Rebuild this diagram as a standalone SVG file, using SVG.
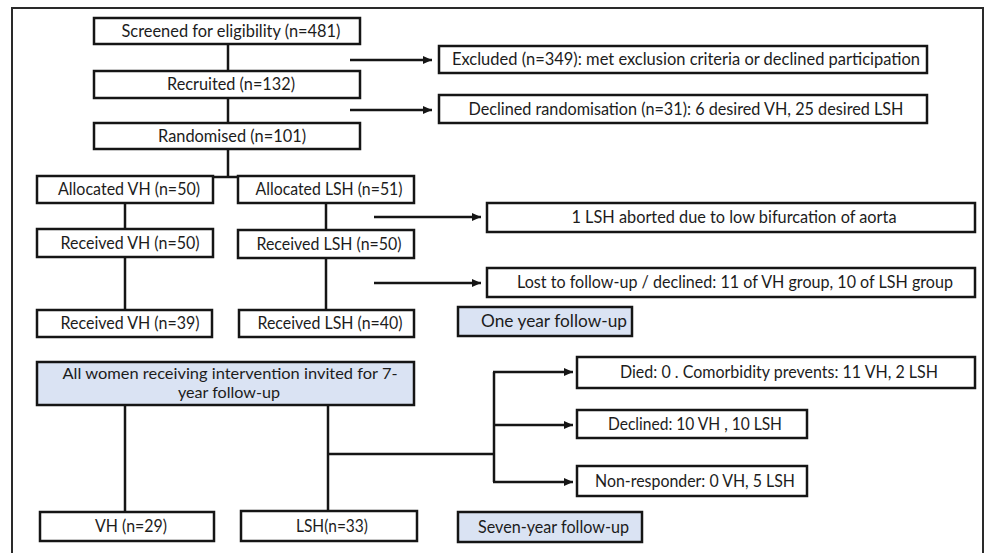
<svg xmlns="http://www.w3.org/2000/svg" width="987" height="553" viewBox="0 0 987 553">
<style>
.box{fill:#ffffff;stroke:#151515;stroke-width:2.5}
.blue{fill:#dae3f3}
text{font-family:Lato,"Open Sans","Liberation Sans",sans-serif;font-size:16.5px;fill:#1c1c1c;text-anchor:middle}
text.st{text-anchor:start}
text.sm{font-size:16px}
.c{stroke:#151515;stroke-width:2.5;fill:none}
.a{stroke:#151515;stroke-width:2.5;fill:none;marker-end:url(#ah)}
</style>
<defs>
<marker id="ah" markerUnits="userSpaceOnUse" markerWidth="10" markerHeight="9" refX="9" refY="4.5" orient="auto">
<path d="M0,0.5 L9,4.5 L0,8.5 z" fill="#151515"/>
</marker>
</defs>
<rect x="0" y="0" width="987" height="553" fill="#ffffff"/>
<rect x="12" y="8" width="971" height="560" fill="none" stroke="#2a2a2a" stroke-width="2"/>

<g id="connectors">
<line class="c" x1="228" y1="44" x2="228" y2="71"/>
<line class="c" x1="228" y1="98" x2="228" y2="123"/>
<line class="c" x1="228" y1="149" x2="228" y2="177"/>
<line class="c" x1="213" y1="177" x2="238" y2="177"/>
<line class="a" x1="350" y1="60" x2="432" y2="60"/>
<line class="a" x1="350" y1="110" x2="432" y2="110"/>
<line class="c" x1="125" y1="203" x2="125" y2="229"/>
<line class="c" x1="125" y1="257" x2="125" y2="310"/>
<line class="c" x1="326" y1="203" x2="326" y2="230"/>
<line class="c" x1="326" y1="258" x2="326" y2="310"/>
<line class="a" x1="374" y1="217" x2="481" y2="217"/>
<line class="a" x1="374" y1="283" x2="481" y2="283"/>
<line class="c" x1="125" y1="405" x2="125" y2="512"/>
<line class="c" x1="328" y1="405" x2="328" y2="511"/>
<line class="c" x1="327" y1="454" x2="494" y2="454"/>
<path class="c" d="M494,372 L494,482"/>
<line class="a" x1="493" y1="372" x2="573" y2="372"/>
<line class="a" x1="493" y1="425" x2="573" y2="425"/>
<line class="a" x1="493" y1="482" x2="573" y2="482"/>
</g>

<g id="screened"><rect class="box" x="94" y="18" width="266" height="26"/><text x="231" y="37" textLength="219" lengthAdjust="spacingAndGlyphs">Screened for eligibility (n=481)</text></g>
<g id="recruited"><rect class="box" x="94" y="71" width="266" height="27"/><text x="231" y="90" textLength="128" lengthAdjust="spacingAndGlyphs">Recruited (n=132)</text></g>
<g id="randomised"><rect class="box" x="94" y="123" width="266" height="26"/><text x="232" y="142" textLength="148" lengthAdjust="spacingAndGlyphs">Randomised (n=101)</text></g>
<g id="excluded"><rect class="box" x="439" y="46" width="488" height="27"/><text x="686" y="65" textLength="468" lengthAdjust="spacingAndGlyphs">Excluded (n=349): met exclusion criteria or declined participation</text></g>
<g id="declined-rand"><rect class="box" x="439" y="95" width="488" height="28"/><text x="686" y="115" textLength="435" lengthAdjust="spacingAndGlyphs">Declined randomisation (n=31): 6 desired VH, 25 desired LSH</text></g>
<g id="alloc-vh"><rect class="box" x="37" y="176" width="176" height="27"/><text x="129" y="195" textLength="142" lengthAdjust="spacingAndGlyphs">Allocated VH (n=50)</text></g>
<g id="alloc-lsh"><rect class="box" x="238" y="176" width="176" height="27"/><text x="329" y="195" textLength="147" lengthAdjust="spacingAndGlyphs">Allocated LSH (n=51)</text></g>
<g id="recv-vh-50"><rect class="box" x="37" y="229" width="176" height="28"/><text x="130" y="249" textLength="139" lengthAdjust="spacingAndGlyphs">Received VH (n=50)</text></g>
<g id="recv-lsh-50"><rect class="box" x="238" y="230" width="176" height="28"/><text x="329" y="250" textLength="145" lengthAdjust="spacingAndGlyphs">Received LSH (n=50)</text></g>
<g id="aborted"><rect class="box" x="487" y="203" width="488" height="29"/><text x="734" y="223" textLength="325" lengthAdjust="spacingAndGlyphs">1 LSH aborted due to low bifurcation of aorta</text></g>
<g id="lost"><rect class="box" x="487" y="268" width="488" height="29"/><text x="735" y="288" textLength="436" lengthAdjust="spacingAndGlyphs">Lost to follow-up / declined: 11 of VH group, 10 of LSH group</text></g>
<g id="recv-vh-39"><rect class="box" x="37" y="310" width="175" height="27"/><text x="130" y="329" textLength="139" lengthAdjust="spacingAndGlyphs">Received VH (n=39)</text></g>
<g id="recv-lsh-40"><rect class="box" x="239" y="310" width="175" height="27"/><text x="330" y="329" textLength="145" lengthAdjust="spacingAndGlyphs">Received LSH (n=40)</text></g>
<g id="one-year"><rect class="box blue" x="458" y="307" width="174" height="29"/><text class="st" x="481" y="327" textLength="146" lengthAdjust="spacingAndGlyphs">One year follow-up</text></g>
<g id="all-women"><rect class="box blue" x="37" y="362" width="377" height="43"/><text class="sm" x="230" y="379" textLength="335" lengthAdjust="spacingAndGlyphs">All women receiving intervention invited for 7-</text><text class="sm" x="229" y="398" textLength="102" lengthAdjust="spacingAndGlyphs">year follow-up</text></g>
<g id="died"><rect class="box" x="577" y="357" width="398" height="31"/><text x="779" y="378" textLength="318" lengthAdjust="spacingAndGlyphs">Died: 0 . Comorbidity prevents: 11 VH, 2 LSH</text></g>
<g id="declined-7"><rect class="box" x="577" y="410" width="230" height="28"/><text x="695" y="430" textLength="174" lengthAdjust="spacingAndGlyphs">Declined: 10 VH , 10 LSH</text></g>
<g id="non-responder"><rect class="box" x="577" y="466" width="230" height="30"/><text x="695" y="487" textLength="200" lengthAdjust="spacingAndGlyphs">Non-responder: 0 VH, 5 LSH</text></g>
<g id="vh-29"><rect class="box" x="40" y="512" width="174" height="29"/><text x="131" y="532" textLength="72" lengthAdjust="spacingAndGlyphs">VH (n=29)</text></g>
<g id="lsh-33"><rect class="box" x="241" y="511" width="176" height="30"/><text x="332" y="532" textLength="72" lengthAdjust="spacingAndGlyphs">LSH(n=33)</text></g>
<g id="seven-year"><rect class="box blue" x="458" y="512" width="184" height="30"/><text class="st" x="478" y="533" textLength="151" lengthAdjust="spacingAndGlyphs">Seven-year follow-up</text></g>
</svg>
